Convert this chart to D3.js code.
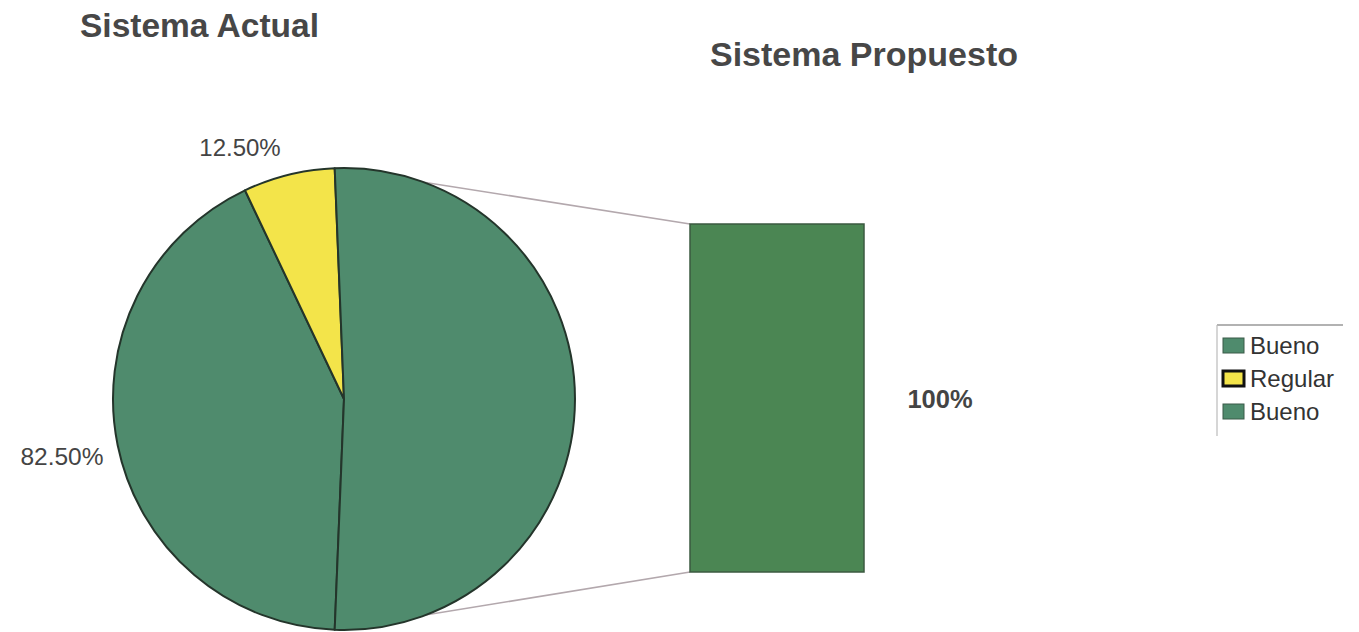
<!DOCTYPE html>
<html>
<head>
<meta charset="utf-8">
<script src="https://cdn.jsdelivr.net/npm/d3@7"></script>
<style>
  html, body { margin: 0; padding: 0; background: #fff; }
  svg { display: block; font-family: "Liberation Sans", Arial, sans-serif; }
</style>
</head>
<body>
<svg id="chart" width="1359" height="632"></svg>
<script>
// ---- data ----
const titles = ["Sistema Actual", "Sistema Propuesto"];
const categories = ["Bueno", "Regular", "Bueno"];
const values = [82.5, 12.5, 100];          // last slice = "other" shown as bar
const pieLabels = ["82.50%", "12.50%"];
const barCategories = ["Bueno"];
const barValues = [100];
const barLabels = ["100%"];

// ---- styles ----
const pieColors = ["#4f8b6d", "#f3e44a", "#4f8b6d"];
const barColor = "#4b8653";
const legendColors = ["#4f8b6d", "#f3e44a", "#4f8b6d"];

const svg = d3.select("#chart");

// titles
svg.append("text").attr("x", 80).attr("y", 37)
  .attr("font-size", 33.5).attr("font-weight", "bold").attr("fill", "#474747")
  .text(titles[0]);
svg.append("text").attr("x", 710).attr("y", 66)
  .attr("font-size", 34).attr("font-weight", "bold").attr("fill", "#474747")
  .text(titles[1]);

// pie geometry
const cx = 344, cy = 399, R = 231;
const total = d3.sum(values);
const other = values[values.length - 1];
const start = Math.PI / 2 + Math.PI * other / total;
const pie = d3.pie().sort(null).value(d => d)
  .startAngle(start).endAngle(start + 2 * Math.PI);
const arcs = pie(values);
const arc = d3.arc().innerRadius(0).outerRadius(R);

// bar
const barX = d3.scaleBand().domain(barCategories).range([690, 864]).padding(0);
const barY = d3.scaleLinear().domain([0, 100]).range([572, 224]);

// connector lines (behind pie)
const oth = arcs[arcs.length - 1];
const pt = a => [cx + R * Math.sin(a), cy - R * Math.cos(a)];
const pTop = pt(oth.startAngle), pBot = pt(oth.endAngle);
const g0 = svg.append("g");
g0.append("line").attr("x1", pTop[0]).attr("y1", pTop[1])
  .attr("x2", barX(barCategories[0])).attr("y2", barY(barValues[0]))
  .attr("stroke", "#b3a8ad").attr("stroke-width", 1.6);
g0.append("line").attr("x1", pBot[0]).attr("y1", pBot[1])
  .attr("x2", barX(barCategories[0])).attr("y2", barY(0))
  .attr("stroke", "#b3a8ad").attr("stroke-width", 1.6);

// pie slices
const gp = svg.append("g").attr("transform", `translate(${cx},${cy})`);
gp.selectAll("path").data(arcs).join("path")
  .attr("d", arc)
  .attr("fill", (d, i) => pieColors[i])
  .attr("stroke", "#24352b").attr("stroke-width", 2)
  .attr("stroke-linejoin", "round");

// bar
svg.selectAll("rect.bar").data(barValues).join("rect").attr("class", "bar")
  .attr("x", (d, i) => barX(barCategories[i]))
  .attr("y", d => barY(d))
  .attr("width", barX.bandwidth())
  .attr("height", d => barY(0) - barY(d))
  .attr("fill", barColor).attr("stroke", "#3b5a40").attr("stroke-width", 1.5);

// labels
svg.append("text").attr("x", 62).attr("y", 465).attr("text-anchor", "middle")
  .attr("font-size", 24.5).attr("fill", "#444").text(pieLabels[0]);
svg.append("text").attr("x", 240).attr("y", 156).attr("text-anchor", "middle")
  .attr("font-size", 24).attr("fill", "#444").text(pieLabels[1]);
svg.append("text").attr("x", 940).attr("y", 408).attr("text-anchor", "middle")
  .attr("font-size", 25.5).attr("font-weight", "bold").attr("fill", "#444").text(barLabels[0]);

// legend
const lg = svg.append("g");
lg.append("line").attr("x1", 1217).attr("y1", 325).attr("x2", 1343).attr("y2", 325)
  .attr("stroke", "#999").attr("stroke-width", 1.5);
lg.append("line").attr("x1", 1217).attr("y1", 325).attr("x2", 1217).attr("y2", 436)
  .attr("stroke", "#bbb").attr("stroke-width", 1.2);
const items = lg.selectAll("g.item").data(categories).join("g").attr("class", "item")
  .attr("transform", (d, i) => `translate(0,${354 + i * 33})`);
items.append("rect").attr("x", 1223).attr("y", -16).attr("width", 21).attr("height", 15)
  .attr("fill", (d, i) => legendColors[i])
  .attr("stroke", (d, i) => i === 1 ? "#111" : "#3b5a48")
  .attr("stroke-width", (d, i) => i === 1 ? 3 : 1);
items.append("text").attr("x", 1250).attr("y", 0)
  .attr("font-size", 24).attr("fill", "#333").text(d => d);
</script>
</body>
</html>
